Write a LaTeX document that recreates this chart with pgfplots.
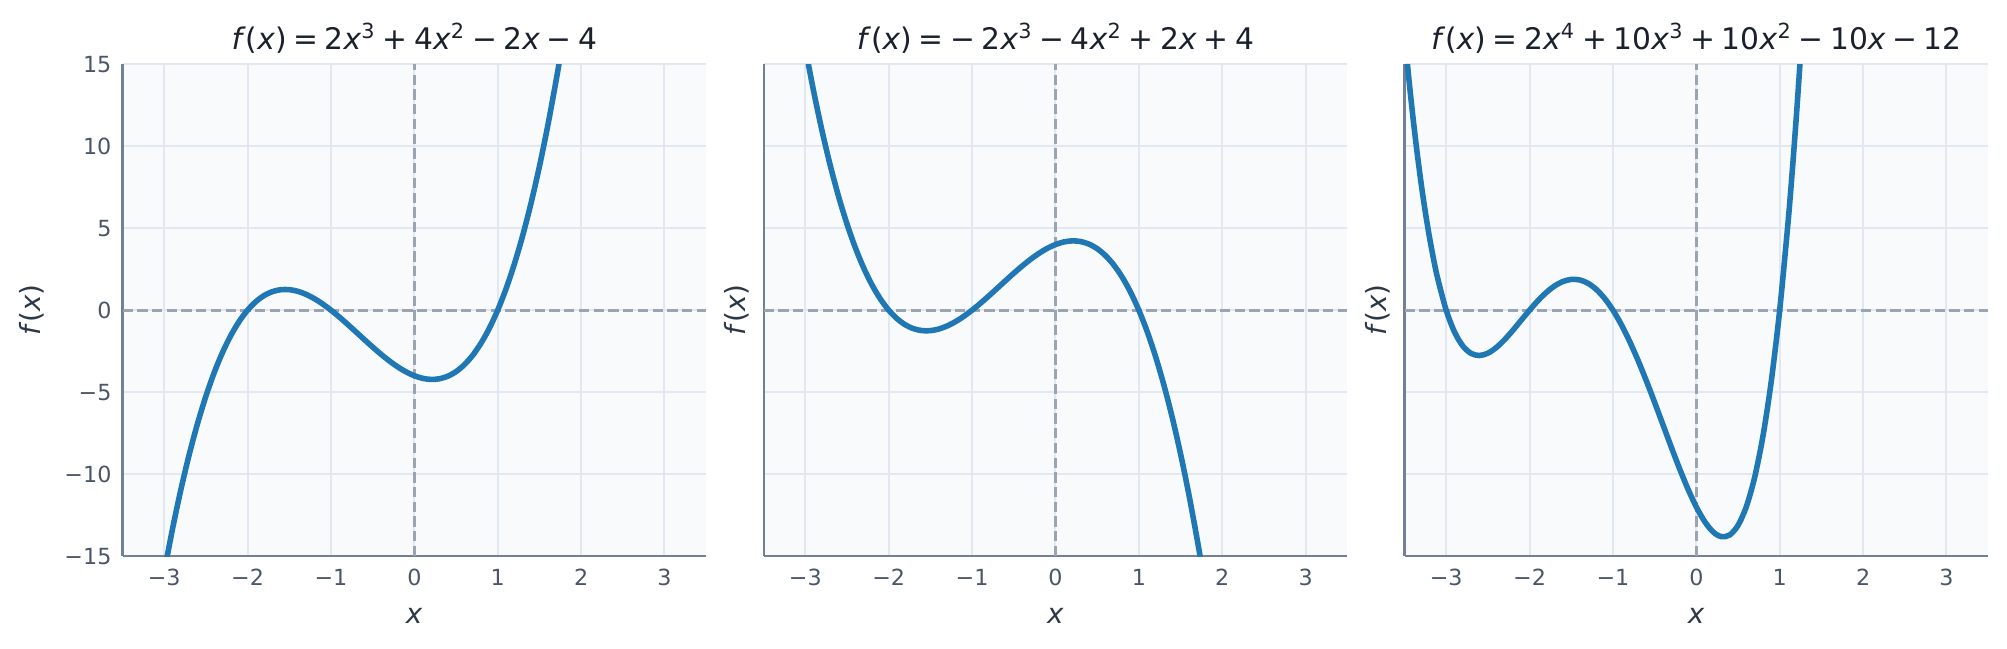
\documentclass[border=0pt]{standalone}
\usepackage{fontspec}
\setmainfont{DejaVu Sans}
\usepackage{pgfplots}
\usepackage{pgfplotstable}
\pgfplotsset{compat=1.18}

\definecolor{curve}{HTML}{1F77B4}
\definecolor{spine}{HTML}{718096}
\definecolor{tickc}{HTML}{4A5568}
\definecolor{gridc}{HTML}{E2E8F0}
\definecolor{bgc}{HTML}{F8FAFC}
\definecolor{zeroc}{HTML}{9AA4B2}
\definecolor{titlec}{HTML}{1A202C}
\definecolor{labelc}{HTML}{2D3748}

\newcommand{\mi}[1]{\textit{#1}}
\newcommand{\op}[1]{\hspace{0.22em}#1\hspace{0.22em}}

% f1(x) = 2x^3 + 4x^2 - 2x - 4
\pgfplotstableread{
x y
-3.1 -18.942
-3.0 -16.0
-2.9 -13.338
-2.8 -10.944
-2.7 -8.806
-2.6 -6.912
-2.5 -5.25
-2.4 -3.808
-2.3 -2.574
-2.2 -1.536
-2.1 -0.682
-2.0 0
-1.9 0.522
-1.8 0.896
-1.7 1.134
-1.6 1.248
-1.5 1.25
-1.4 1.152
-1.3 0.966
-1.2 0.704
-1.1 0.378
-1.0 0
-0.9 -0.418
-0.8 -0.864
-0.7 -1.326
-0.6 -1.792
-0.5 -2.25
-0.4 -2.688
-0.3 -3.094
-0.2 -3.456
-0.1 -3.762
0.0 -4.0
0.1 -4.158
0.2 -4.224
0.3 -4.186
0.4 -4.032
0.5 -3.75
0.6 -3.328
0.7 -2.754
0.8 -2.016
0.9 -1.102
1.0 0
1.1 1.302
1.2 2.816
1.3 4.554
1.4 6.528
1.5 8.75
1.6 11.232
1.7 13.986
1.75 15.469
1.8 17.024
}\tableA

% f2(x) = -2x^3 - 4x^2 + 2x + 4
\pgfplotstableread{
x y
-3.1 18.942
-3.0 16.0
-2.9 13.338
-2.8 10.944
-2.7 8.806
-2.6 6.912
-2.5 5.25
-2.4 3.808
-2.3 2.574
-2.2 1.536
-2.1 0.682
-2.0 0
-1.9 -0.522
-1.8 -0.896
-1.7 -1.134
-1.6 -1.248
-1.5 -1.25
-1.4 -1.152
-1.3 -0.966
-1.2 -0.704
-1.1 -0.378
-1.0 0
-0.9 0.418
-0.8 0.864
-0.7 1.326
-0.6 1.792
-0.5 2.25
-0.4 2.688
-0.3 3.094
-0.2 3.456
-0.1 3.762
0.0 4.0
0.1 4.158
0.2 4.224
0.3 4.186
0.4 4.032
0.5 3.75
0.6 3.328
0.7 2.754
0.8 2.016
0.9 1.102
1.0 0
1.1 -1.302
1.2 -2.816
1.3 -4.554
1.4 -6.528
1.5 -8.75
1.6 -11.232
1.7 -13.986
1.75 -15.469
1.8 -17.024
}\tableB

% f3(x) = 2x^4 + 10x^3 + 10x^2 - 10x - 12
\pgfplotstableread{
x y
-3.5 16.875
-3.45 14.228
-3.4 11.827
-3.35 9.660
-3.3 7.714
-3.25 5.977
-3.2 4.435
-3.15 3.078
-3.1 1.894
-3.0 0
-2.9 -1.334
-2.8 -2.189
-2.7 -2.642
-2.6 -2.765
-2.5 -2.625
-2.4 -2.285
-2.3 -1.802
-2.2 -1.229
-2.1 -0.614
-2.0 0
-1.9 0.574
-1.8 1.075
-1.7 1.474
-1.6 1.747
-1.5 1.875
-1.4 1.843
-1.3 1.642
-1.2 1.267
-1.1 0.718
-1.0 0
-0.9 -0.878
-0.8 -1.901
-0.7 -3.050
-0.6 -4.301
-0.5 -5.625
-0.4 -6.989
-0.3 -8.354
-0.2 -9.677
-0.1 -10.910
0.0 -12.0
0.1 -12.890
0.2 -13.517
0.3 -13.814
0.4 -13.709
0.5 -13.125
0.6 -11.981
0.7 -10.190
0.8 -7.661
0.9 -4.298
1.0 0
1.1 5.338
1.15 8.432
1.2 11.827
1.25 15.539
1.3 19.582
}\tableC

\pgfplotsset{
  panel/.style={
    anchor=south west,
    scale only axis,
    width=210.1pt,
    height=177.1pt,
    xmin=-3.5, xmax=3.5,
    ymin=-15, ymax=15,
    axis x line*=bottom,
    axis y line*=left,
    axis line style={-, draw=spine, line width=0.8pt},
    axis background/.style={fill=bgc},
    xtick={-3,-2,-1,0,1,2,3},
    xticklabels={−3,−2,−1,0,1,2,3},
    ytick={-15,-10,-5,0,5,10,15},
    yticklabels={−15,−10,−5,0,5,10,15},
    major tick length=0pt,
    grid=major,
    grid style={draw=gridc, line width=0.7pt},
    tick label style={font=\fontsize{8}{9}\selectfont, text=tickc, inner sep=0pt},
    xticklabel style={anchor=base, yshift=-10.4pt},
    yticklabel style={anchor=east, xshift=-3.8pt},
    title style={at={(axis description cs:0.5,1)}, anchor=base, yshift=-0.6pt,
      font=\fontsize{10.7}{12}\selectfont, text=titlec, inner sep=0pt},
    xlabel style={at={(axis description cs:0.5,0)}, anchor=base, yshift=-24.1pt,
      font=\fontsize{10}{12}\selectfont, text=labelc, inner sep=0pt},
    ylabel style={font=\fontsize{10}{12}\selectfont, text=labelc, inner sep=0pt, anchor=center},
    xlabel={\mi{x}},
    ylabel={\mi{f}(\mi{x})},
  },
  zero/.style={draw=zeroc, line width=1pt, dash pattern=on 3.7pt off 1.6pt, forget plot},
  fcurve/.style={draw=curve, line width=2pt, smooth, no marks},
}

\begin{document}
\begin{tikzpicture}
\useasboundingbox (0,0) rectangle (722.5pt,233.3pt);

\begin{axis}[panel, at={(44.1pt,33.1pt)},
  ylabel style={at={(axis description cs:0,0.5)}, yshift=32.6pt},
  title={\mi{f}(\mi{x})\op{=}2\mi{x}\textsuperscript{3}\op{+}4\mi{x}\textsuperscript{2}\op{−}2\mi{x}\op{−}4}]
  \addplot[zero] coordinates {(-3.5,0) (3.5,0)};
  \addplot[zero] coordinates {(0,-15) (0,15)};
  \addplot[fcurve] table[x=x, y=y] {\tableA};
\end{axis}

\begin{axis}[panel, at={(274.9pt,33.1pt)}, yticklabels={},
  ylabel style={at={(axis description cs:0,0.5)}, yshift=9.5pt},
  title={\mi{f}(\mi{x})\op{=}−\hspace{0.22em}2\mi{x}\textsuperscript{3}\op{−}4\mi{x}\textsuperscript{2}\op{+}2\mi{x}\op{+}4}]
  \addplot[zero] coordinates {(-3.5,0) (3.5,0)};
  \addplot[zero] coordinates {(0,-15) (0,15)};
  \addplot[fcurve] table[x=x, y=y] {\tableB};
\end{axis}

\begin{axis}[panel, at={(505.6pt,33.1pt)}, yticklabels={},
  ylabel style={at={(axis description cs:0,0.5)}, yshift=9.5pt},
  title={\mi{f}(\mi{x})\op{=}2\mi{x}\textsuperscript{4}\op{+}10\mi{x}\textsuperscript{3}\op{+}10\mi{x}\textsuperscript{2}\op{−}10\mi{x}\op{−}12}]
  \addplot[zero] coordinates {(-3.5,0) (3.5,0)};
  \addplot[zero] coordinates {(0,-15) (0,15)};
  \addplot[fcurve] table[x=x, y=y] {\tableC};
\end{axis}
\end{tikzpicture}
\end{document}
